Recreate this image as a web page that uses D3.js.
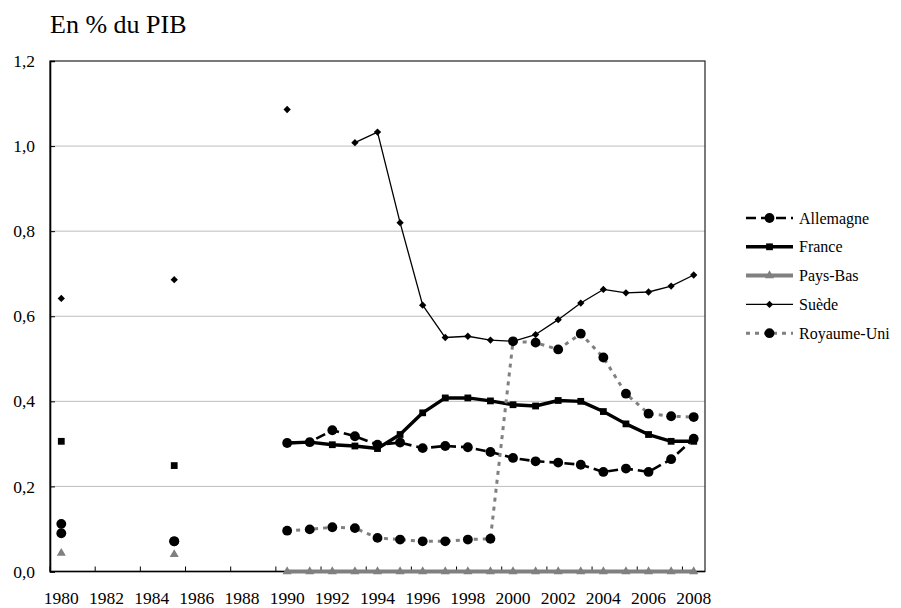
<!DOCTYPE html>
<html>
<head>
<meta charset="utf-8">
<script src="https://cdn.jsdelivr.net/npm/d3@7"></script>
<style>
  html, body { margin: 0; padding: 0; background: #fff; }
</style>
</head>
<body>
<svg id="chart" width="901" height="608"></svg>
<script>
// Years on the category axis
const years = d3.range(1980, 2009);

// Series values (share of GDP, %), null where no data
const allemagne = [0.112, null, null, null, null, 0.071, null, null, null, null,
  0.302, 0.304, 0.332, 0.318, 0.298, 0.303, 0.290, 0.295, 0.292, 0.281,
  0.267, 0.259, 0.256, 0.251, 0.234, 0.242, 0.234, 0.264, 0.312];
const france = [0.306, null, null, null, null, 0.249, null, null, null, null,
  0.302, 0.304, 0.298, 0.295, 0.289, 0.322, 0.373, 0.408, 0.408, 0.401,
  0.392, 0.389, 0.402, 0.400, 0.376, 0.347, 0.322, 0.306, 0.306];
const paysBas = [0.043, null, null, null, null, 0.040, null, null, null, null,
  0, 0, 0, 0, 0, 0, 0, 0, 0, 0,
  0, 0, 0, 0, 0, 0, 0, 0, 0];
const suede = [0.642, null, null, null, null, 0.686, null, null, null, null,
  1.086, null, null, 1.008, 1.033, 0.820, 0.626, 0.550, 0.553, 0.544,
  0.541, 0.557, 0.592, 0.631, 0.663, 0.655, 0.657, 0.671, 0.697];
const royaumeUni = [0.090, null, null, null, null, 0.071, null, null, null, null,
  0.096, 0.099, 0.104, 0.102, 0.079, 0.075, 0.071, 0.071, 0.075, 0.077,
  0.541, 0.538, 0.522, 0.559, 0.503, 0.418, 0.371, 0.365, 0.363];

const yTicks = [0, 0.2, 0.4, 0.6, 0.8, 1.0, 1.2];
const xTickLabels = years.filter(y => y % 2 === 0);

const series = [
  { name: "Allemagne", values: allemagne, stroke: "#000", width: 2.6, dash: "10,5", marker: "circle", fill: "#000", size: 76 },
  { name: "France", values: france, stroke: "#000", width: 3.4, dash: null, marker: "square", fill: "#000", size: 46 },
  { name: "Pays-Bas", values: paysBas, stroke: "#808080", width: 4, dash: null, marker: "triangle", fill: "#808080", size: 36 },
  { name: "Suède", values: suede, stroke: "#000", width: 1.3, dash: null, marker: "diamond", fill: "#000", size: 34 },
  { name: "Royaume-Uni", values: royaumeUni, stroke: "#808080", width: 3, dash: "4,5", marker: "circle", fill: "#000", size: 76 }
];

const FONT = "'Liberation Serif'";
const serif = sel => sel.style("font-family", FONT, "important");

const margin = { left: 50, right: 196, top: 61, bottom: 36.5 };
const W = 901, H = 608;
const svg = d3.select("#chart");

const x = d3.scaleBand().domain(years).range([margin.left, W - margin.right]);
const y = d3.scaleLinear().domain([0, 1.2]).range([H - margin.bottom, margin.top]);
const cx = yr => x(yr) + x.bandwidth() / 2;

// Title
svg.append("text").attr("x", 50).attr("y", 33)
  .attr("font-size", 26).attr("fill", "#000")
  .call(serif).text("En % du PIB");

// Horizontal gridlines
svg.append("g").selectAll("line").data(yTicks.filter(t => t > 0 && t < 1.2)).join("line")
  .attr("x1", margin.left).attr("x2", W - margin.right)
  .attr("y1", d => y(d)).attr("y2", d => y(d))
  .attr("stroke", "#bdbdbd").attr("stroke-width", 1);

// Plot frame
svg.append("rect")
  .attr("x", margin.left).attr("y", margin.top)
  .attr("width", W - margin.right - margin.left)
  .attr("height", H - margin.bottom - margin.top)
  .attr("fill", "none").attr("stroke", "#222").attr("stroke-width", 1.2);

// Y axis (ticks inside)
const yAxis = svg.append("g").attr("transform", `translate(${margin.left},0)`)
  .call(d3.axisRight(y).tickValues(yTicks).tickSize(5).tickFormat(""));
yAxis.select(".domain").attr("stroke", "#000").attr("stroke-width", 1.6);
yAxis.selectAll(".tick text").remove();
svg.append("g").selectAll("text").data(yTicks).join("text")
  .attr("x", 35).attr("y", d => y(d)).attr("dy", "0.35em")
  .attr("text-anchor", "end").attr("font-size", 17.5)
  .call(serif)
  .text(d => d3.format(".1f")(d).replace(".", ","));

// X axis: tick marks every two categories, pointing inward
const xTickPos = d3.range(0, years.length + 1, 2).map(i => margin.left + i * x.step());
svg.append("g").selectAll("line").data(xTickPos).join("line")
  .attr("x1", d => d).attr("x2", d => d)
  .attr("y1", y(0)).attr("y2", y(0) - 5)
  .attr("stroke", "#000").attr("stroke-width", 1);
svg.append("line")
  .attr("x1", margin.left).attr("x2", W - margin.right)
  .attr("y1", y(0)).attr("y2", y(0))
  .attr("stroke", "#000").attr("stroke-width", 1.6);
svg.append("g").selectAll("text").data(xTickLabels).join("text")
  .attr("x", d => cx(d)).attr("y", 604)
  .attr("text-anchor", "middle").attr("font-size", 17.5)
  .call(serif)
  .text(d => d);

const symbolType = {
  circle: d3.symbolCircle, square: d3.symbolSquare,
  triangle: d3.symbolTriangle, diamond: d3.symbolDiamond2
};

const line = d3.line()
  .defined(d => d.v != null)
  .x(d => cx(d.year)).y(d => y(d.v));

series.forEach(s => {
  const pts = years.map((yr, i) => ({ year: yr, v: s.values[i] }));
  const g = svg.append("g");
  g.append("path").datum(pts)
    .attr("d", line).attr("fill", "none")
    .attr("stroke", s.stroke).attr("stroke-width", s.width)
    .attr("stroke-dasharray", s.dash)
    .attr("stroke-linejoin", "round");
  g.selectAll("path.m").data(pts.filter(d => d.v != null)).join("path")
    .attr("class", "m")
    .attr("transform", d => `translate(${cx(d.year)},${y(d.v)})`)
    .attr("d", d3.symbol().type(symbolType[s.marker]).size(s.size))
    .attr("fill", s.fill);
});

// Legend
const legend = svg.append("g");
series.forEach((s, i) => {
  const ly = 218 + i * 28.8;
  legend.append("line").attr("x1", 746).attr("x2", 793)
    .attr("y1", ly).attr("y2", ly)
    .attr("stroke", s.stroke).attr("stroke-width", s.width)
    .attr("stroke-dasharray", s.dash);
  legend.append("path")
    .attr("transform", `translate(769.5,${ly})`)
    .attr("d", d3.symbol().type(symbolType[s.marker]).size(s.size))
    .attr("fill", s.fill);
  legend.append("text").attr("x", 799).attr("y", ly).attr("dy", "0.35em")
    .attr("font-size", 16)
    .call(serif).text(s.name);
});
</script>
</body>
</html>
